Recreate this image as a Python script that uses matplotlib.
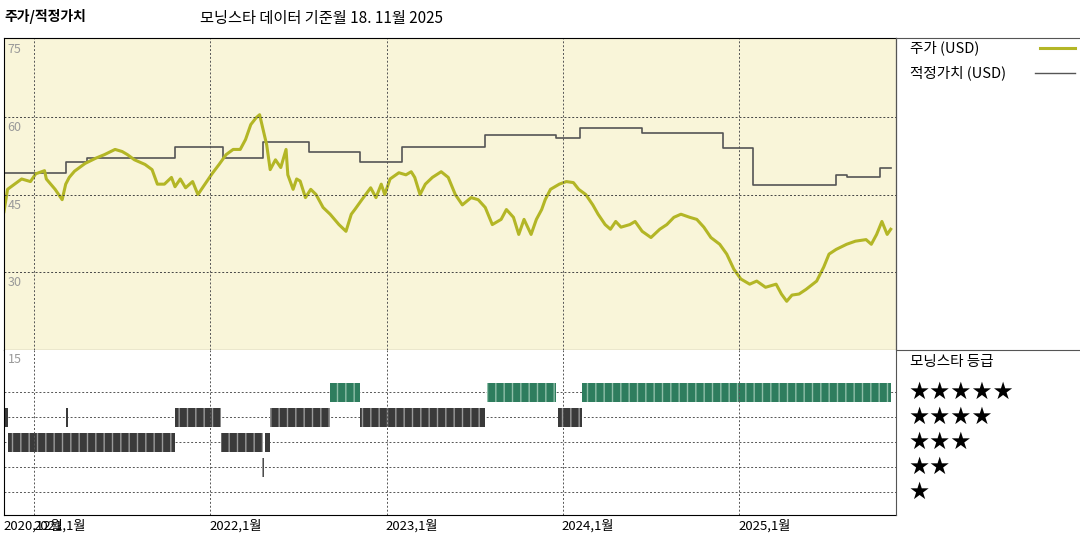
import numpy as np
import matplotlib.pyplot as plt
from matplotlib.lines import Line2D

plt.rcParams['font.family'] = ['Noto Sans CJK KR', 'DejaVu Sans']

# price (decimal year, USD)
price_t = [2020.83, 2020.85, 2020.89, 2020.93, 2020.98, 2021.01, 2021.06, 2021.07, 2021.12, 2021.16,
           2021.18, 2021.20, 2021.23, 2021.29, 2021.35, 2021.40, 2021.46, 2021.50, 2021.53, 2021.57,
           2021.63, 2021.67, 2021.70, 2021.74, 2021.78, 2021.80, 2021.83, 2021.86, 2021.90, 2021.93,
           2021.97, 2022.01, 2022.05, 2022.09, 2022.13, 2022.17, 2022.20, 2022.23, 2022.26, 2022.28,
           2022.30, 2022.32, 2022.34, 2022.37, 2022.40, 2022.43, 2022.44, 2022.47, 2022.49, 2022.51,
           2022.54, 2022.57, 2022.60, 2022.64, 2022.68, 2022.73, 2022.77, 2022.80, 2022.82, 2022.86,
           2022.91, 2022.94, 2022.97, 2022.99, 2023.02, 2023.07, 2023.11, 2023.14, 2023.16, 2023.19,
           2023.22, 2023.26, 2023.31, 2023.35, 2023.39, 2023.43, 2023.48, 2023.52, 2023.56, 2023.60,
           2023.65, 2023.68, 2023.72, 2023.75, 2023.78, 2023.82, 2023.85, 2023.88, 2023.90, 2023.93,
           2023.98, 2024.02, 2024.06, 2024.09, 2024.13, 2024.17, 2024.20, 2024.24, 2024.27, 2024.30,
           2024.33, 2024.38, 2024.41, 2024.45, 2024.50, 2024.55, 2024.59, 2024.63, 2024.67, 2024.72,
           2024.76, 2024.80, 2024.84, 2024.89, 2024.93, 2024.97, 2025.01, 2025.06, 2025.10, 2025.15,
           2025.21, 2025.24, 2025.27, 2025.30, 2025.34, 2025.38, 2025.44, 2025.48, 2025.51, 2025.55,
           2025.61, 2025.66, 2025.72, 2025.75, 2025.78, 2025.81, 2025.84, 2025.86]
price_v = [41.7, 46, 47, 48, 47.5, 49, 49.6, 48, 46, 44,
           47, 48.3, 49.5, 51, 52, 52.7, 53.7, 53.3, 52.7, 51.7,
           50.8, 49.8, 47, 47, 48.3, 46.5, 48, 46.3, 47.5, 45,
           47, 49, 50.8, 52.7, 53.7, 53.7, 55.6, 58.5, 59.8, 60.4,
           57.5, 54.6, 49.8, 51.7, 50.2, 53.7, 48.8, 46, 48, 47.6,
           44.4, 46, 45, 42.5, 41.2, 39.2, 37.9, 41.2, 42.1, 44,
           46.3, 44.4, 47, 45, 48, 49.2, 48.8, 49.4, 48.3, 45,
           47, 48.3, 49.4, 48.3, 45, 43, 44.4, 44, 42.5, 39.2,
           40.2, 42.1, 40.6, 37.3, 40.2, 37.3, 40.2, 42.1, 44, 46,
           47, 47.5, 47.3, 46, 45, 43, 41.2, 39.2, 38.3, 39.8,
           38.7, 39.2, 39.8, 37.9, 36.7, 38.3, 39.2, 40.6, 41.2, 40.6,
           40.2, 38.7, 36.7, 35.4, 33.5, 30.6, 28.7, 27.7, 28.3, 27.1,
           27.7, 25.8, 24.4, 25.6, 25.8, 26.7, 28.3, 31, 33.5, 34.4,
           35.4, 36, 36.3, 35.4, 37.3, 39.8, 37.3, 38.3]

# fair value steps
fv_t = [2020.83, 2021.18, 2021.30, 2021.80, 2022.07, 2022.30, 2022.56, 2022.85, 2023.09, 2023.56,
        2023.96, 2024.10, 2024.45, 2024.91, 2025.08, 2025.55, 2025.61, 2025.80, 2025.86]
fv_v = [49.2, 51.2, 52.1, 54.1, 52.1, 55.2, 53.3, 51.2, 54.1, 56.5,
        56.0, 57.9, 56.9, 54.0, 46.9, 48.8, 48.3, 50.2, 50.2]

# star rating periods
rate_start = [2020.83, 2020.855, 2021.183, 2021.80, 2022.06, 2022.295, 2022.31, 2022.34, 2022.68, 2022.85, 2023.57, 2023.97, 2024.11]
rate_end = [2020.85, 2021.80, 2021.195, 2022.06, 2022.30, 2022.307, 2022.34, 2022.68, 2022.85, 2023.56, 2023.96, 2024.11, 2025.86]
rate_star = [4, 3, 4, 4, 3, 2, 3, 4, 5, 4, 5, 4, 5]

year_ticks = [2021, 2022, 2023, 2024, 2025]
year_labels = ['2021,1월', '2022,1월', '2023,1월', '2024,1월', '2025,1월']

xmin, xmax = 2020.83, 2025.89
green = '#b3b626'
fig = plt.figure(figsize=(10.8, 5.4), dpi=100)
W, H = 1080, 540
ax = fig.add_axes([4/W, 1-350/H, 892/W, 312/H])
ax2 = fig.add_axes([4/W, 1-515/H, 892/W, 165/H])

ax.set_facecolor('#f9f5d9')
ax.plot(fv_t, fv_v, drawstyle='steps-post', color='#555555', lw=1.2)
ax.plot(price_t, price_v, color=green, lw=2.2)
ax.set_xlim(xmin, xmax)
ax.set_ylim(15, 75.2)
for y in [60, 45, 30]:
    ax.axhline(y, color='#444444', ls=(0, (2, 2)), lw=0.7)
for y in [75, 60, 45, 30]:
    ax.text(xmin + 0.02, y - 0.8, str(y), fontsize=9, color='#999999', va='top')
for t in year_ticks:
    ax.axvline(t, color='#555555', ls=(0, (2, 2)), lw=0.7)
    ax2.axvline(t, color='#555555', ls=(0, (2, 2)), lw=0.7)
ax.set_xticks([]); ax.set_yticks([])

for s, e, r in zip(rate_start, rate_end, rate_star):
    c = '#2e7d5e' if r == 5 else '#3a3a3a'
    hc = '#8fbfa9' if r == 5 else '#9a9a9a'
    ax2.broken_barh([(s, max(e - s, 0.01))], (r - 0.38, 0.76), facecolor=c,
                    edgecolor=hc, hatch='||', lw=0)
ax2.set_xlim(xmin, xmax)
ax2.set_ylim(0.08, 6.68)
for r in [1, 2, 3, 4, 5]:
    ax2.axhline(r, color='#555555', ls=(0, (2, 2)), lw=0.7, zorder=0)
ax2.text(xmin + 0.02, 6.55, '15', fontsize=9, color='#999999', va='top')
ax2.set_xticks([]); ax2.set_yticks([])
for sp in ['top', 'right']:
    ax2.spines[sp].set_visible(False)
ax2.text(xmin - 0.005, -0.35, '2020,12월', fontsize=9.5, va='center', clip_on=False)
for t, l in zip(year_ticks, year_labels):
    ax2.text(t - 0.005, -0.35, l, fontsize=9.5, va='center', clip_on=False)

# right panel frame and legend
for y in [38, 350]:
    fig.add_artist(Line2D([896/W, 1], [1-y/H, 1-y/H], color='#555555', lw=0.8))
fig.add_artist(Line2D([896/W, 896/W], [1-38/H, 1-515/H], color='#555555', lw=0.8))
fig.text(910/W, 1-48/H, '주가 (USD)', fontsize=10.5, va='center')
fig.add_artist(Line2D([1040/W, 1075/W], [1-48/H, 1-48/H], color=green, lw=2.2))
fig.text(910/W, 1-73/H, '적정가치 (USD)', fontsize=10.5, va='center')
fig.add_artist(Line2D([1035/W, 1075/W], [1-73/H, 1-73/H], color='#555555', lw=1))
fig.text(910/W, 1-362/H, '모닝스타 등급', fontsize=10.5, va='center')
for i, n in enumerate([5, 4, 3, 2, 1]):
    fig.text(908/W, 1-(392 + 25*i)/H, '★' * n, fontsize=17, va='center',
             family='DejaVu Sans')

fig.text(4/W, 1-16/H, '주가/적정가치', fontsize=10, va='center', weight='bold')
fig.text(200/W, 1-18/H, '모닝스타 데이터 기준월 18. 11월 2025', fontsize=11, va='center')

fig.savefig('out.png', dpi=100)
